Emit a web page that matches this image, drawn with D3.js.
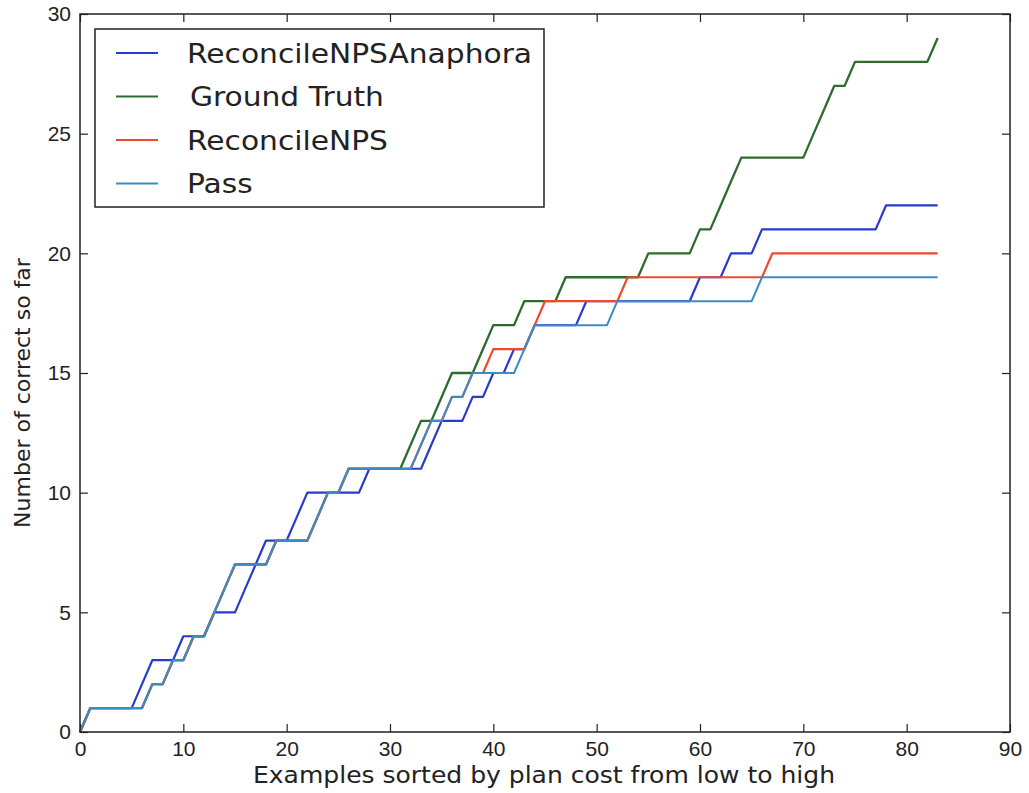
<!DOCTYPE html>
<html>
<head>
<meta charset="utf-8">
<script src="https://cdn.jsdelivr.net/npm/d3@7"></script>
<style>
  body { margin: 0; background: #fff; }
  svg { display: block; font-family: "DejaVu Sans", sans-serif; }
  .tick line { stroke: #222; stroke-width: 1.2; }
  .tick text { fill: #222; font-size: 21px; }
</style>
</head>
<body>
<svg id="chart" width="1029" height="793"></svg>
<script>
// cumulative number correct, examples 0..83
var anaphora = [0,1,1,1,1,1,2,3,3,3,4,4,4,5,5,5,6,7,8,8,8,9,10,10,10,10,10,10,11,11,
  11,11,11,11,12,13,13,13,14,14,15,15,16,16,17,17,17,17,17,18,18,18,18,18,18,18,18,18,18,18,
  19,19,19,20,20,20,21,21,21,21,21,21,21,21,21,21,21,21,22,22,22,22,22,22];
var groundTruth = [0,1,1,1,1,1,1,2,2,3,3,4,4,5,6,7,7,7,7,8,8,8,8,9,10,10,11,11,11,11,
  11,11,12,13,13,14,15,15,15,16,17,17,17,18,18,18,18,19,19,19,19,19,19,19,19,20,20,20,20,20,
  21,21,22,23,24,24,24,24,24,24,24,25,26,27,27,28,28,28,28,28,28,28,28,29];
var reconcile = [0,1,1,1,1,1,1,2,2,3,3,4,4,5,6,7,7,7,7,8,8,8,8,9,10,10,11,11,11,11,
  11,11,11,12,13,13,14,14,15,15,16,16,16,16,17,18,18,18,18,18,18,18,18,19,19,19,19,19,19,19,
  19,19,19,19,19,19,19,20,20,20,20,20,20,20,20,20,20,20,20,20,20,20,20,20];
var pass = [0,1,1,1,1,1,1,2,2,3,3,4,4,5,6,7,7,7,7,8,8,8,8,9,10,10,11,11,11,11,
  11,11,11,12,13,13,14,14,15,15,15,15,15,16,17,17,17,17,17,17,17,17,18,18,18,18,18,18,18,18,
  18,18,18,18,18,18,19,19,19,19,19,19,19,19,19,19,19,19,19,19,19,19,19,19];

var seriesNames = ['ReconcileNPSAnaphora', 'Ground Truth', 'ReconcileNPS', 'Pass'];
var seriesColors = ['#2a3bcc', '#2f6b2f', '#ee4a2c', '#3a8cc6'];
var seriesWidths = [2.2, 2.3, 2.2, 2.0];
var seriesValues = [anaphora, groundTruth, reconcile, pass];

var xTicks = [0, 10, 20, 30, 40, 50, 60, 70, 80, 90];
var yTicks = [0, 5, 10, 15, 20, 25, 30];

var plotLeft = 80, plotRight = 1010, plotTop = 14, plotBottom = 732;

var svg = d3.select('#chart');
var x = d3.scaleLinear().domain([0, 90]).range([plotLeft, plotRight]);
var y = d3.scaleLinear().domain([0, 30]).range([plotBottom, plotTop]);

// axes: ticks point inward on all four sides
svg.append('g').attr('transform', 'translate(0,' + plotBottom + ')')
  .call(d3.axisBottom(x).tickValues(xTicks).tickSizeInner(-8).tickSizeOuter(0).tickPadding(9))
  .call(function (g) { g.select('.domain').remove(); });
svg.append('g').attr('transform', 'translate(0,' + plotTop + ')')
  .call(d3.axisTop(x).tickValues(xTicks).tickSizeInner(-8).tickSizeOuter(0).tickFormat(''))
  .call(function (g) { g.select('.domain').remove(); });
svg.append('g').attr('transform', 'translate(' + plotLeft + ',0)')
  .call(d3.axisLeft(y).tickValues(yTicks).tickSizeInner(-8).tickSizeOuter(0).tickPadding(9))
  .call(function (g) { g.select('.domain').remove(); });
svg.append('g').attr('transform', 'translate(' + plotRight + ',0)')
  .call(d3.axisRight(y).tickValues(yTicks).tickSizeInner(-8).tickSizeOuter(0).tickFormat(''))
  .call(function (g) { g.select('.domain').remove(); });

var line = d3.line()
  .x(function (d, i) { return x(i); })
  .y(function (d) { return y(d); });

seriesValues.forEach(function (vals, k) {
  svg.append('path')
    .datum(vals)
    .attr('d', line)
    .attr('fill', 'none')
    .attr('stroke', seriesColors[k])
    .attr('stroke-width', seriesWidths[k])
    .attr('stroke-linejoin', 'round');
});

// frame
svg.append('rect')
  .attr('x', plotLeft).attr('y', plotTop)
  .attr('width', plotRight - plotLeft).attr('height', plotBottom - plotTop)
  .attr('fill', 'none').attr('stroke', '#222').attr('stroke-width', 1.5);

// axis labels
svg.append('text')
  .attr('x', 253).attr('y', 783)
  .attr('font-size', 23).attr('fill', '#222')
  .attr('textLength', 582).attr('lengthAdjust', 'spacingAndGlyphs')
  .text('Examples sorted by plan cost from low to high');
svg.append('text')
  .attr('transform', 'translate(30,' + ((plotTop + plotBottom) / 2 + 20) + ') rotate(-90)')
  .attr('text-anchor', 'middle').attr('font-size', 22).attr('fill', '#222')
  .text('Number of correct so far');

// legend
var legend = svg.append('g');
legend.append('rect')
  .attr('x', 95).attr('y', 29).attr('width', 449).attr('height', 178)
  .attr('fill', '#fff').attr('stroke', '#222').attr('stroke-width', 1.5);
seriesNames.forEach(function (name, k) {
  var ly = 53 + k * 43.5;
  legend.append('line')
    .attr('x1', 116).attr('x2', 158).attr('y1', ly).attr('y2', ly)
    .attr('stroke', seriesColors[k]).attr('stroke-width', 2.2);
  legend.append('text')
    .attr('transform', 'translate(' + (k === 1 ? 190 : 187) + ',' + ly + ') scale(1.1,1)')
    .attr('dy', '0.36em')
    .attr('font-size', 27).attr('fill', '#222')
    .text(name);
});
</script>
</body>
</html>
